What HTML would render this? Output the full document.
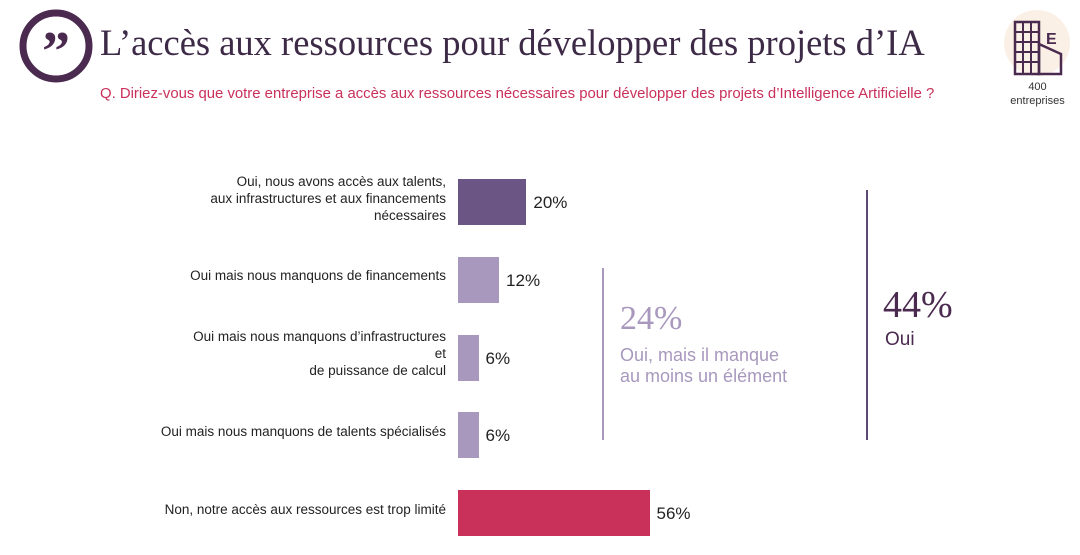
<!DOCTYPE html>
<html><head><meta charset="utf-8"><style>
body{margin:0;width:1080px;height:555px;background:#fff;overflow:hidden;position:relative;font-family:"Liberation Sans",sans-serif}
.abs{position:absolute}
.lbl{position:absolute;right:634px;text-align:right;font-size:13.5px;color:#222;line-height:17px}
.val{position:absolute;font-size:17px;color:#222}
</style></head><body>
<svg class="abs" style="left:18px;top:8px" width="76" height="76"><circle cx="38" cy="38" r="33" fill="none" stroke="#4b2a4f" stroke-width="7"/><text x="38" y="62" text-anchor="middle" font-family="Liberation Serif" font-weight="bold" font-size="56" fill="#4b2a4f">”</text></svg>
<div class="abs" style="left:100px;top:21px;font-family:'Liberation Serif',serif;font-size:36.5px;color:#3d2a47">L’accès aux ressources pour développer des projets d’IA</div>
<div class="abs" style="left:100px;top:86px;font-size:14.9px;color:#c9305a">Q. Diriez-vous que votre entreprise a accès aux ressources nécessaires pour développer des projets d’Intelligence Artificielle ?</div>
<div class="abs" style="left:1004px;top:10px;width:66px;height:66px;border-radius:50%;background:#fbf0e6"></div>
<svg class="abs" style="left:1012px;top:20px" width="52" height="56"><rect x="3" y="2" width="24" height="52" fill="none" stroke="#4b2a4f" stroke-width="2.5"/><path d="M3 12h24M3 22h24M3 32h24M3 42h24M11 2v52M19 2v52" stroke="#4b2a4f" stroke-width="2"/><path d="M27 24l22 10v20H27z" fill="none" stroke="#4b2a4f" stroke-width="2.5"/><text x="34" y="24" font-size="16" font-weight="bold" fill="#4b2a4f">E</text></svg>
<div class="abs" style="left:995px;top:80px;width:85px;text-align:center;font-size:11px;line-height:14px;color:#333">400<br>entreprises</div>
<div id="chart"></div>
<div class="abs" style="left:602px;top:268px;width:2px;height:172px;background:#a898bd"></div>
<div class="abs" style="left:620px;top:300px;font-family:'Liberation Serif',serif;font-size:34px;color:#a898bd">24%</div>
<div class="abs" style="left:620px;top:345px;font-size:18px;line-height:21px;color:#a898bd">Oui, mais il manque<br>au moins un élément</div>
<div class="abs" style="left:866px;top:190px;width:2px;height:250px;background:#5e4a72"></div>
<div class="abs" style="left:883px;top:283px;font-family:'Liberation Serif',serif;font-size:38px;color:#4b2a4f">44%</div>
<div class="abs" style="left:885px;top:329px;font-size:19px;color:#4b2a4f">Oui</div>
<script>
const categories=["Oui, nous avons accès aux talents,<br>aux infrastructures et aux financements<br>nécessaires","Oui mais nous manquons de financements","Oui mais nous manquons d’infrastructures<br>et<br>de puissance de calcul","Oui mais nous manquons de talents spécialisés","Non, notre accès aux ressources est trop limité"];
const values=[20,12,6,6,56];
const colors=["#6b5585","#a898bd","#a898bd","#a898bd","#c9305a"];
const x=v=>v*3.42, y=i=>179+i*77.8;
const c=document.getElementById('chart');
values.forEach((v,i)=>{
 const b=document.createElement('div');b.className='abs';
 
 
 b.style.cssText=`left:458px;top:${y(i)}px;width:${x(v)}px;height:46px;background:${colors[i]}`;c.appendChild(b);
 const t=document.createElement('div');t.className='val';
 
 
 t.style.left=(458+x(v)+7)+'px';t.style.top=(y(i)+14)+'px';t.textContent=v+'%';c.appendChild(t);
 const l=document.createElement('div');l.className='lbl';
 
 
 l.innerHTML=categories[i];const n=categories[i].split('<br>').length;
 l.style.top=(y(i)+23-n*8.5-4)+'px';c.appendChild(l);
});
</script>
</body></html>
